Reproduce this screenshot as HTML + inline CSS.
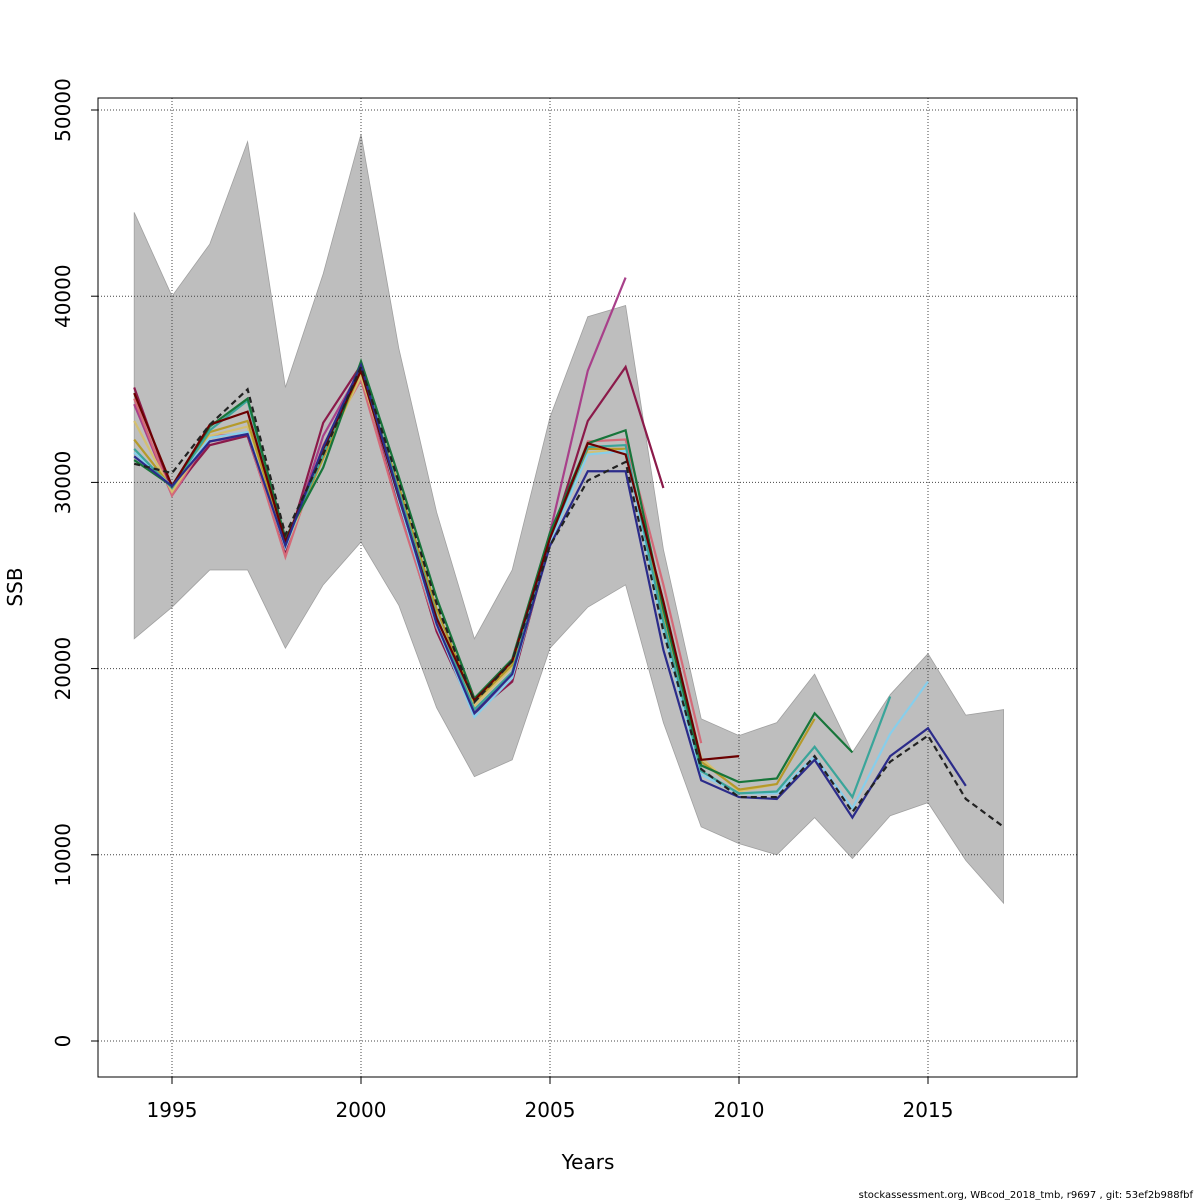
<!DOCTYPE html>
<html><head><meta charset="utf-8"><style>
body{margin:0;background:#fff;}
svg{display:block;font-family:"DejaVu Sans","Liberation Sans",sans-serif;}
</style></head><body>
<svg id="chart" width="1200" height="1200"></svg>
<script>
const years=[1994,1995,1996,1997,1998,1999,2000,2001,2002,2003,2004,2005,2006,2007,2008,2009,2010,2011,2012,2013,2014,2015,2016,2017];
const bandUpper=[44500,40000,42800,48300,35100,41200,48700,37200,28400,21600,25300,33500,38900,39500,26400,17300,16400,17100,19700,15500,18600,20800,17500,17800];
const bandLower=[21600,23300,25300,25300,21100,24500,26800,23400,17900,14200,15100,21100,23300,24500,17100,11500,10600,10000,12000,9800,12100,12800,9700,7400];
const p2007=[34200,29300,32200,32500,26200,32500,36100,28700,22100,17700,19400,27300,36000,41000];
const p2008=[35100,29500,32000,32500,26300,33200,36300,28800,22000,17600,19300,26800,33300,36200,29700];
const p2009=[34500,29300,32500,32600,26000,32000,35500,28500,22200,17800,19800,26800,32200,32300,24500,16000];
const p2010=[34800,29800,33100,33800,26800,31800,36000,29200,22700,18300,20400,27000,32100,31500,23600,15100,15300];
const p2011=[33300,29500,32500,33000,26500,31500,35700,29500,22800,18000,20100,27000,31600,31800,23200,15200,13400,13800];
const p2012=[32300,29700,32700,33300,26700,31300,36000,29800,23200,18200,20200,27200,31800,31800,23000,15000,13500,13800,17300];
const p2013=[31200,29800,33000,34500,27000,30800,36500,30300,23800,18400,20500,27300,32100,32800,23200,14800,13900,14100,17600,15500];
const p2014=[31800,29700,32800,34400,26700,31500,36300,29500,22800,17800,19800,27000,31900,32000,22500,14500,13300,13400,15800,13100,18500];
const p2015=[31600,29800,32400,32700,26500,31800,36200,29000,22300,17400,19500,26800,31500,31700,22000,14300,13300,13300,15300,12500,16500,19300];
const p2016=[31400,29800,32200,32600,26600,31900,36300,29300,22400,17600,19700,26600,30600,30600,21000,14000,13100,13000,15100,12000,15300,16800,13700];
const pFinal=[31000,30500,33100,35000,27200,31500,36200,30000,23500,18200,20400,26600,30100,31100,22000,14600,13100,13100,15300,12300,15000,16400,13000,11500];
const xTicks=[1995,2000,2005,2010,2015];
const yTicks=[0,10000,20000,30000,40000,50000];

const NS="http://www.w3.org/2000/svg";
const svg=document.getElementById('chart');
const X=y=>172+(y-1995)*37.8;
const Y=v=>1041-v*0.01862;
function mk(t,a){const e=document.createElementNS(NS,t);for(const k in a)e.setAttribute(k,a[k]);svg.appendChild(e);return e;}

// band
let pts=years.map((y,i)=>X(y)+','+Y(bandUpper[i])).concat(years.slice().reverse().map((y,j)=>X(y)+','+Y(bandLower[years.length-1-j])));
let band=mk('polygon',{points:pts.join(' '),fill:'#bebebe',stroke:'#a0a0a0','stroke-width':0.8});



// grid
xTicks.forEach(t=>{const g=mk('line',{x1:X(t),x2:X(t),y1:98,y2:1077,stroke:'#444','stroke-width':1,'stroke-dasharray':'1,2'});

});
yTicks.forEach(t=>{const g=mk('line',{x1:98,x2:1077,y1:Y(t),y2:Y(t),stroke:'#444','stroke-width':1,'stroke-dasharray':'1,2'});

});

const series=[[p2007,'#a8408a'],[p2008,'#8b1a4a'],[p2009,'#d46a78'],[p2011,'#d4c070'],[p2012,'#b59a2a'],[p2015,'#87ceeb'],[p2014,'#3aa59a'],[p2013,'#17753a'],[p2010,'#6b0000'],[p2016,'#2b2b8a']];
series.forEach(([d,c])=>{
  const l=mk('polyline',{points:d.map((v,i)=>X(years[i])+','+Y(v)).join(' '),fill:'none',stroke:c,'stroke-width':2.2});
  
  
});
const fl=mk('polyline',{points:pFinal.map((v,i)=>X(years[i])+','+Y(v)).join(' '),fill:'none',stroke:'#222','stroke-width':2.2,'stroke-dasharray':'6,4'});



// axes box
const box=mk('rect',{x:98,y:98,width:979,height:979,fill:'none',stroke:'#000','stroke-width':1});


xTicks.forEach(t=>{mk('line',{x1:X(t),x2:X(t),y1:1077,y2:1084,stroke:'#000'});
const tx=mk('text',{x:X(t),y:1117,'text-anchor':'middle','font-size':20});tx.textContent=t;

});
yTicks.forEach(t=>{mk('line',{x1:91,x2:98,y1:Y(t),y2:Y(t),stroke:'#000'});
const tx=mk('text',{x:70,y:Y(t),'text-anchor':'middle','font-size':20,transform:`rotate(-90 70 ${Y(t)})`});tx.textContent=t;

});
const xt=mk('text',{x:588,y:1169,'text-anchor':'middle','font-size':20});xt.textContent='Years';


const yt=mk('text',{x:22,y:587,'text-anchor':'middle','font-size':20,transform:'rotate(-90 22 587)'});yt.textContent='SSB';


const ft=mk('text',{x:1193,y:1198,'text-anchor':'end','font-size':10});ft.textContent='stockassessment.org, WBcod_2018_tmb, r9697 , git: 53ef2b988fbf';


</script>
</body></html>
